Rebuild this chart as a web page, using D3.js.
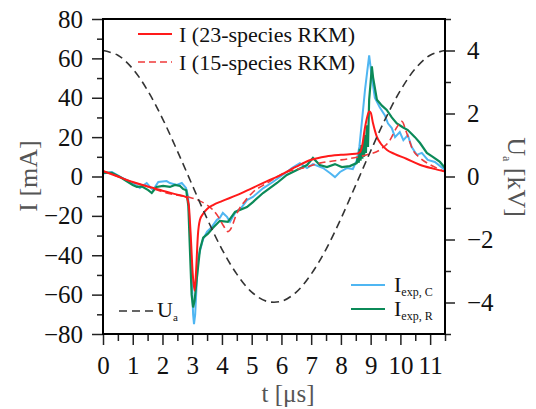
<!DOCTYPE html>
<html><head><meta charset="utf-8">
<script src="https://cdn.jsdelivr.net/npm/d3@7"></script>
<style>body{margin:0;background:#fff}svg{display:block}svg text{font-family:"Liberation Serif","Times New Roman",Times,"DejaVu Serif",serif !important}</style>
</head><body><div id="c"></div>
<script>
// Applied voltage U_a [kV]
const tU = [0,0.5,1,1.5,2,2.5,3,3.5,4,4.5,5,5.5,6,6.5,7,7.5,8,8.5,9,9.5,10,10.5,11,11.5];
const vU = [4.00,3.85,3.42,2.73,1.84,0.81,-0.27,-1.34,-2.31,-3.10,-3.67,-3.96,-3.96,-3.67,-3.10,-2.31,-1.34,-0.27,0.81,1.84,2.73,3.42,3.85,4.00];

// I (23-species RKM) [mA]
const t23 = [0,0.5,1.0,1.5,2.0,2.5,2.8,2.88,2.95,3.02,3.08,3.13,3.19,3.26,3.36,3.5,3.7,4.0,4.5,5.0,5.5,6.0,6.5,7.0,7.5,8.0,8.5,8.65,8.72,8.8,8.88,8.95,9.0,9.08,9.2,9.35,9.55,9.8,10.2,10.65,11.1,11.5];
const i23 = [2.8,0,-2.8,-5,-7.2,-9.2,-10.5,-14,-30,-50,-58,-48,-30,-22,-19,-16.5,-14.5,-12.5,-9.5,-6,-2.5,1,5,8.5,10.2,11,11.5,12.5,16,24,30,33,32.5,27,20.5,16.5,13.5,11.5,9,6,4,2.5];

// I (15-species RKM) [mA]
const t15 = [0,0.5,1.0,1.5,2.0,2.5,2.9,3.2,3.5,3.7,3.9,4.05,4.2,4.32,4.44,4.6,4.8,5.04,5.5,6.18,6.86,7.29,7.8,8.4,8.87,9.31,9.65,9.88,10.05,10.2,10.42,10.66,11.0,11.5];
const i15 = [2.8,0,-2.8,-5.2,-7.8,-9.5,-10.5,-12,-14.5,-17,-21,-25,-28,-26,-21,-16,-12,-8,-3.5,2.3,4.8,6.8,8,9.4,11,13.5,18.5,25,28,22.6,13.5,9.4,6,2.5];

// I_exp,C [mA]
const tC = [0,0.3,0.6,1.0,1.24,1.47,1.68,1.86,2.14,2.25,2.48,2.65,2.79,2.86,2.92,2.98,3.03,3.06,3.1,3.19,3.36,3.5,3.66,3.83,3.93,4.03,4.17,4.27,4.44,4.67,4.84,5.04,5.38,5.71,6.18,6.35,6.62,6.86,7.06,7.4,7.63,7.8,7.97,8.2,8.4,8.53,8.62,8.7,8.81,8.95,9.04,9.14,9.31,9.48,9.58,9.71,9.82,9.98,10.1,10.25,10.38,10.55,10.72,10.92,11.16,11.5];
const iC = [1.5,2.3,-0.3,-3.3,-5.8,-3.3,-6.9,-2.8,-2.3,-3.3,-4.3,-3.3,-5.8,-10,-25,-50,-70,-75,-70,-42,-32,-28,-25.6,-22,-21,-18.5,-20.5,-23,-18.5,-15.5,-12,-10.4,-6,-2.8,2.3,4.3,6.8,4.3,6.3,4.3,1.8,-0.3,2.3,4.3,3.8,8,15,27,44,61.5,50.5,40,35,31,27,24.6,20,22.6,18.5,21,15,11,12,8.4,7.4,3.3];

// I_exp,R [mA]
const tR = [0,0.3,0.6,1.0,1.14,1.3,1.52,1.64,1.8,2.02,2.25,2.42,2.59,2.69,2.8,2.87,2.93,2.98,3.03,3.08,3.15,3.26,3.37,3.53,3.7,3.93,4.2,4.44,4.84,5.04,5.38,5.85,6.18,6.52,6.86,7.06,7.29,7.53,7.8,8.03,8.3,8.53,8.57,8.6,8.63,8.66,8.69,8.72,8.75,8.78,8.81,8.84,8.87,8.91,8.95,9.0,9.04,9.08,9.21,9.38,9.54,9.71,9.88,10.08,10.25,10.49,10.66,10.89,11.09,11.33,11.5];
const iR = [2,1.8,-0.5,-4.3,-5.3,-5,-6.9,-8.4,-5.3,-4.8,-5.3,-4.3,-4.8,-6.3,-7,-15,-40,-60,-66.5,-63,-52.5,-37,-31,-29,-26,-22.5,-23,-18,-15.5,-13,-8.4,-3.3,0.8,3.3,5.8,9.4,5.8,4.8,6.3,4.8,5.3,6.8,10,7,14,8,16,9,18,10,21,12,26,15,39,48,56,50.5,39,36,33.8,30,27,25,23.6,20,17,12,10,7.4,4.3];

// Ticks
const xMajor = [0,1,2,3,4,5,6,7,8,9,10,11];
const xMinor = [0.5,1.5,2.5,3.5,4.5,5.5,6.5,7.5,8.5,9.5,10.5,11.5];
const yLMajor = [-80,-60,-40,-20,0,20,40,60,80];
const yLMinor = [-70,-50,-30,-10,10,30,50,70];
const yRMajor = [-4,-2,0,2,4];
const yRMinor = [-5,-3,-1,1,3,5];

const FONT = '"Liberation Serif","Times New Roman",Times,"DejaVu Serif",serif';
const W=536,H=409, L=103,R=445,T=19,B=334;
const svg = d3.select("#c").append("svg").attr("width",W).attr("height",H).style("font-family",FONT);
const x = d3.scaleLinear().domain([0,11.5]).range([L,R]);
const yL = d3.scaleLinear().domain([-80,80]).range([B,T]);
const yR = d3.scaleLinear().domain([-5,5]).range([B,T]);

const FS = 25;
function styleAxis(g){
  g.attr("font-family",FONT);
  g.select(".domain").remove();
  g.selectAll(".tick line").attr("stroke","#222").attr("stroke-width",1.5);
  g.selectAll("text").style("font-family",FONT).attr("font-size",FS).attr("fill","#111");
}
svg.append("g").attr("transform",`translate(0,${B})`).call(d3.axisBottom(x).tickValues(xMinor).tickSize(7).tickFormat("")).call(styleAxis);
svg.append("g").attr("transform",`translate(0,${B})`).call(d3.axisBottom(x).tickValues(xMajor).tickSize(11).tickPadding(11).tickFormat(d3.format("d"))).call(styleAxis);
svg.append("g").attr("transform",`translate(${L},0)`).call(d3.axisLeft(yL).tickValues(yLMinor).tickSize(6).tickFormat("")).call(styleAxis);
svg.append("g").attr("transform",`translate(${L},0)`).call(d3.axisLeft(yL).tickValues(yLMajor).tickSize(11).tickPadding(9).tickFormat(d3.format("d"))).call(styleAxis);
svg.append("g").attr("transform",`translate(${R},0)`).call(d3.axisRight(yR).tickValues(yRMinor).tickSize(6).tickFormat("")).call(styleAxis);
svg.append("g").attr("transform",`translate(${R},0)`).call(d3.axisRight(yR).tickValues(yRMajor).tickSize(10).tickPadding(12).tickFormat(d3.format("d"))).call(styleAxis);

svg.append("clipPath").attr("id","clip").append("rect").attr("x",L).attr("y",T).attr("width",R-L).attr("height",B-T);
const plot = svg.append("g").attr("clip-path","url(#clip)");

function series(ts, vs){ return ts.map((t,i)=>[t,vs[i]]); }
const lineL = (curve)=> d3.line().x(d=>x(d[0])).y(d=>yL(d[1])).curve(curve);
const lineR = d3.line().x(d=>x(d[0])).y(d=>yR(d[1])).curve(d3.curveCatmullRom);

plot.append("path").datum(series(tC,iC)).attr("d",lineL(d3.curveLinear)).attr("fill","none").attr("stroke","#4fb6f2").attr("stroke-width",2);
plot.append("path").datum(series(tR,iR)).attr("d",lineL(d3.curveLinear)).attr("fill","none").attr("stroke","#0b8a58").attr("stroke-width",2.2);
plot.append("path").datum(series(t15,i15)).attr("d",lineL(d3.curveMonotoneX)).attr("fill","none").attr("stroke","#f03a3a").attr("stroke-width",1.6).attr("stroke-dasharray","7,4");
plot.append("path").datum(series(t23,i23)).attr("d",lineL(d3.curveMonotoneX)).attr("fill","none").attr("stroke","#ff1a1a").attr("stroke-width",2);
plot.append("path").datum(series(tU,vU)).attr("d",lineR).attr("fill","none").attr("stroke","#333").attr("stroke-width",1.6).attr("stroke-dasharray","8,5");

svg.append("rect").attr("x",L).attr("y",T).attr("width",R-L).attr("height",B-T).attr("fill","none").attr("stroke","#000").attr("stroke-width",2);

const lg = svg.append("g");
lg.append("line").attr("x1",138).attr("x2",172).attr("y1",34).attr("y2",34).attr("stroke","#ff1a1a").attr("stroke-width",2);
lg.append("text").attr("x",179).attr("y",41.5).attr("font-size",22).attr("fill","#111").text("I (23-species RKM)");
lg.append("line").attr("x1",138).attr("x2",172).attr("y1",62).attr("y2",62).attr("stroke","#f03a3a").attr("stroke-width",1.6).attr("stroke-dasharray","7,4");
lg.append("text").attr("x",179).attr("y",69.5).attr("font-size",22).attr("fill","#111").text("I (15-species RKM)");

lg.append("line").attr("x1",119).attr("x2",154).attr("y1",311).attr("y2",311).attr("stroke","#333").attr("stroke-width",1.6).attr("stroke-dasharray","8,5");
const tu = lg.append("text").attr("x",157).attr("y",317).attr("font-size",22).attr("fill","#111");
tu.append("tspan").text("U");
tu.append("tspan").attr("font-size",11).attr("dy",4).text("a");

lg.append("line").attr("x1",351).attr("x2",385).attr("y1",285).attr("y2",285).attr("stroke","#4fb6f2").attr("stroke-width",2);
const tc = lg.append("text").attr("x",394).attr("y",292).attr("font-size",22).attr("fill","#111");
tc.append("tspan").text("I");
tc.append("tspan").attr("font-size",12).attr("dy",4).text("exp, C");
lg.append("line").attr("x1",351).attr("x2",385).attr("y1",309).attr("y2",309).attr("stroke","#0b8a58").attr("stroke-width",2.2);
const tr = lg.append("text").attr("x",394).attr("y",316).attr("font-size",22).attr("fill","#111");
tr.append("tspan").text("I");
tr.append("tspan").attr("font-size",12).attr("dy",4).text("exp, R");

const TC = "#555";
svg.append("text").attr("x",288).attr("y",402).attr("text-anchor","middle").attr("font-size",25).attr("fill",TC).text("t [μs]");
svg.append("text").attr("transform","translate(37,176) rotate(-90)").attr("text-anchor","middle").attr("font-size",26).attr("fill",TC).text("I [mA]");
const ua = svg.append("text").attr("transform","translate(508,177) rotate(90)").attr("text-anchor","middle").attr("font-size",26).attr("fill",TC);
ua.append("tspan").text("U");
ua.append("tspan").attr("font-size",12).attr("dy",5).text("a");
ua.append("tspan").attr("dy",-5).text(" [kV]");
</script></body></html>
